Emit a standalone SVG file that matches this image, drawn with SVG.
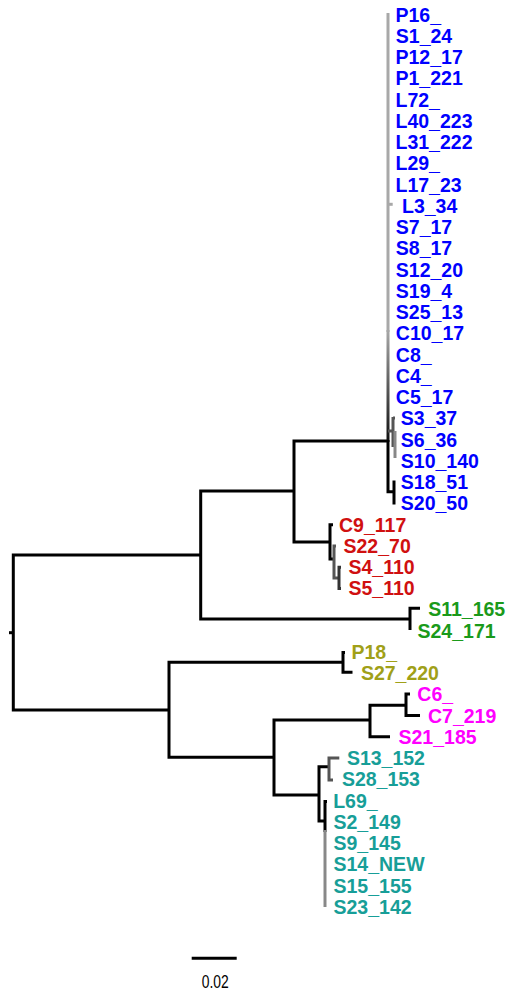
<svg xmlns="http://www.w3.org/2000/svg" width="508" height="993" viewBox="0 0 508 993">
<defs>
<style>
.e{fill:none;stroke:#000;stroke-width:3;stroke-linecap:butt;stroke-linejoin:miter}
.g{stroke:#a8a8a8}
.d{stroke:#555}
.m{stroke:#888}
text{font-family:"Liberation Sans",Arial,sans-serif;font-size:19.5px;font-weight:bold}
.bl{fill:#0000ff}.rd{fill:#d01010}.gr{fill:#1a9a1a}.ol{fill:#a0a018}.mg{fill:#ff00ff}.tl{fill:#179e98}
</style>
<linearGradient id="fade" gradientUnits="userSpaceOnUse" x1="0" y1="330" x2="0" y2="441">
<stop offset="0" stop-color="#a8a8a8"/><stop offset="1" stop-color="#111"/>
</linearGradient>
</defs>
<rect width="508" height="993" fill="#fff"/>
<g id="connectors">
<path class="e" d="M9,632.7 H13.3"/>
<path class="e" d="M200.7,555 H13.3 V710 H169"/>
<path class="e" d="M294,491 H200.7 V619 H410"/>
<path class="e" d="M388,441 H294 V542 H330"/>
<path class="e g" d="M388,13 V332"/>
<path class="e" style="stroke:url(#fade)" d="M388,330 V442"/>
<path class="e" d="M388,440 V491.7 H394"/>
<path class="e g" d="M388,204.3 H392.7"/>
<path class="e d" d="M388,431 H393 M393,417 V447 M393,418.1 H395"/>
<path class="e m" d="M395,431 V458"/>
<path class="e" d="M394,480.5 V503 H395.5"/>
<path class="e" d="M333,524.8 H330 V559 H334"/>
<path class="e d" d="M336,546 H334 V578 H339"/>
<path class="e" style="stroke:#333" d="M341,567.2 H339 V588.5 H341"/>
<path class="e" d="M420,608.3 H410 V630"/>
<path class="e" d="M343,662.3 H169 V757.3 H274"/>
<path class="e" d="M345,652.5 H343 V672.3 H352.5"/>
<path class="e" d="M370,720 H274 V795 H319"/>
<path class="e" d="M406,705.3 H370 V736.7 H390"/>
<path class="e" d="M410,694 H406 V715.4 H420"/>
<path class="e" d="M329,766.7 H319 V821 H325"/>
<path class="e d" d="M339.3,757.9 H329 V780 H333"/>
<path class="e" d="M325,800 V832 M325,801.5 H327"/>
<path class="e m" d="M325,830 V907"/>
<path class="e" d="M191.7,958.3 H236.7"/>
</g>
<g id="leaves">
<g id="n-P16"><text class="bl" x="395.5" y="21.7">P16_</text></g>
<g id="n-S1_24"><text class="bl" x="395.8" y="42.9">S1_24</text></g>
<g id="n-P12_17"><text class="bl" x="395.5" y="64.2">P12_17</text></g>
<g id="n-P1_221"><text class="bl" x="395.5" y="85.4">P1_221</text></g>
<g id="n-L72"><text class="bl" x="395.5" y="106.7">L72_</text></g>
<g id="n-L40_223"><text class="bl" x="395.5" y="127.9">L40_223</text></g>
<g id="n-L31_222"><text class="bl" x="395.5" y="149.1">L31_222</text></g>
<g id="n-L29"><text class="bl" x="395.5" y="170.4">L29_</text></g>
<g id="n-L17_23"><text class="bl" x="395.5" y="191.6">L17_23</text></g>
<g id="n-L3_34"><text class="bl" x="402" y="212.9">L3_34</text></g>
<g id="n-S7_17"><text class="bl" x="395.8" y="234.1">S7_17</text></g>
<g id="n-S8_17"><text class="bl" x="395.8" y="255.3">S8_17</text></g>
<g id="n-S12_20"><text class="bl" x="395.8" y="276.6">S12_20</text></g>
<g id="n-S19_4"><text class="bl" x="395.8" y="297.8">S19_4</text></g>
<g id="n-S25_13"><text class="bl" x="395.8" y="319.1">S25_13</text></g>
<g id="n-C10_17"><text class="bl" x="395.8" y="340.3">C10_17</text></g>
<g id="n-C8"><text class="bl" x="395.8" y="361.5">C8_</text></g>
<g id="n-C4"><text class="bl" x="395.8" y="382.8">C4_</text></g>
<g id="n-C5_17"><text class="bl" x="395.8" y="404">C5_17</text></g>
<g id="n-S3_37"><text class="bl" x="400.8" y="425.3">S3_37</text></g>
<g id="n-S6_36"><text class="bl" x="400.8" y="446.5">S6_36</text></g>
<g id="n-S10_140"><text class="bl" x="400.8" y="467.7">S10_140</text></g>
<g id="n-S18_51"><text class="bl" x="400.8" y="489">S18_51</text></g>
<g id="n-S20_50"><text class="bl" x="400.8" y="510.2">S20_50</text></g>
<g id="n-C9_117"><text class="rd" x="339" y="531.5">C9_117</text></g>
<g id="n-S22_70"><text class="rd" x="343.5" y="552.7">S22_70</text></g>
<g id="n-S4_110"><text class="rd" x="348.5" y="573.9">S4_110</text></g>
<g id="n-S5_110"><text class="rd" x="348.5" y="595.2">S5_110</text></g>
<g id="n-S11_165"><text class="gr" x="428.2" y="616.4">S11_165</text></g>
<g id="n-S24_171"><text class="gr" x="417.5" y="637.7">S24_171</text></g>
<g id="n-P18"><text class="ol" x="351.5" y="658.9">P18_</text></g>
<g id="n-S27_220"><text class="ol" x="360.9" y="680.1">S27_220</text></g>
<g id="n-C6"><text class="mg" x="417.3" y="701.4">C6_</text></g>
<g id="n-C7_219"><text class="mg" x="428" y="722.6">C7_219</text></g>
<g id="n-S21_185"><text class="mg" x="398.5" y="743.9">S21_185</text></g>
<g id="n-S13_152"><text class="tl" x="346.9" y="765.1">S13_152</text></g>
<g id="n-S28_153"><text class="tl" x="341.9" y="786.3">S28_153</text></g>
<g id="n-L69"><text class="tl" x="333.2" y="807.6">L69_</text></g>
<g id="n-S2_149"><text class="tl" x="333.5" y="828.8">S2_149</text></g>
<g id="n-S9_145"><text class="tl" x="333.5" y="850.1">S9_145</text></g>
<g id="n-S14_NEW"><text class="tl" x="333.5" y="871.3">S14_NEW</text></g>
<g id="n-S15_155"><text class="tl" x="333.5" y="892.5">S15_155</text></g>
<g id="n-S23_142"><text class="tl" x="333.5" y="913.8">S23_142</text></g>
</g>
<g id="scale"><text x="201.7" y="988" style="font-weight:normal;font-size:18px" textLength="27" lengthAdjust="spacingAndGlyphs" fill="#000">0.02</text></g>
</svg>
